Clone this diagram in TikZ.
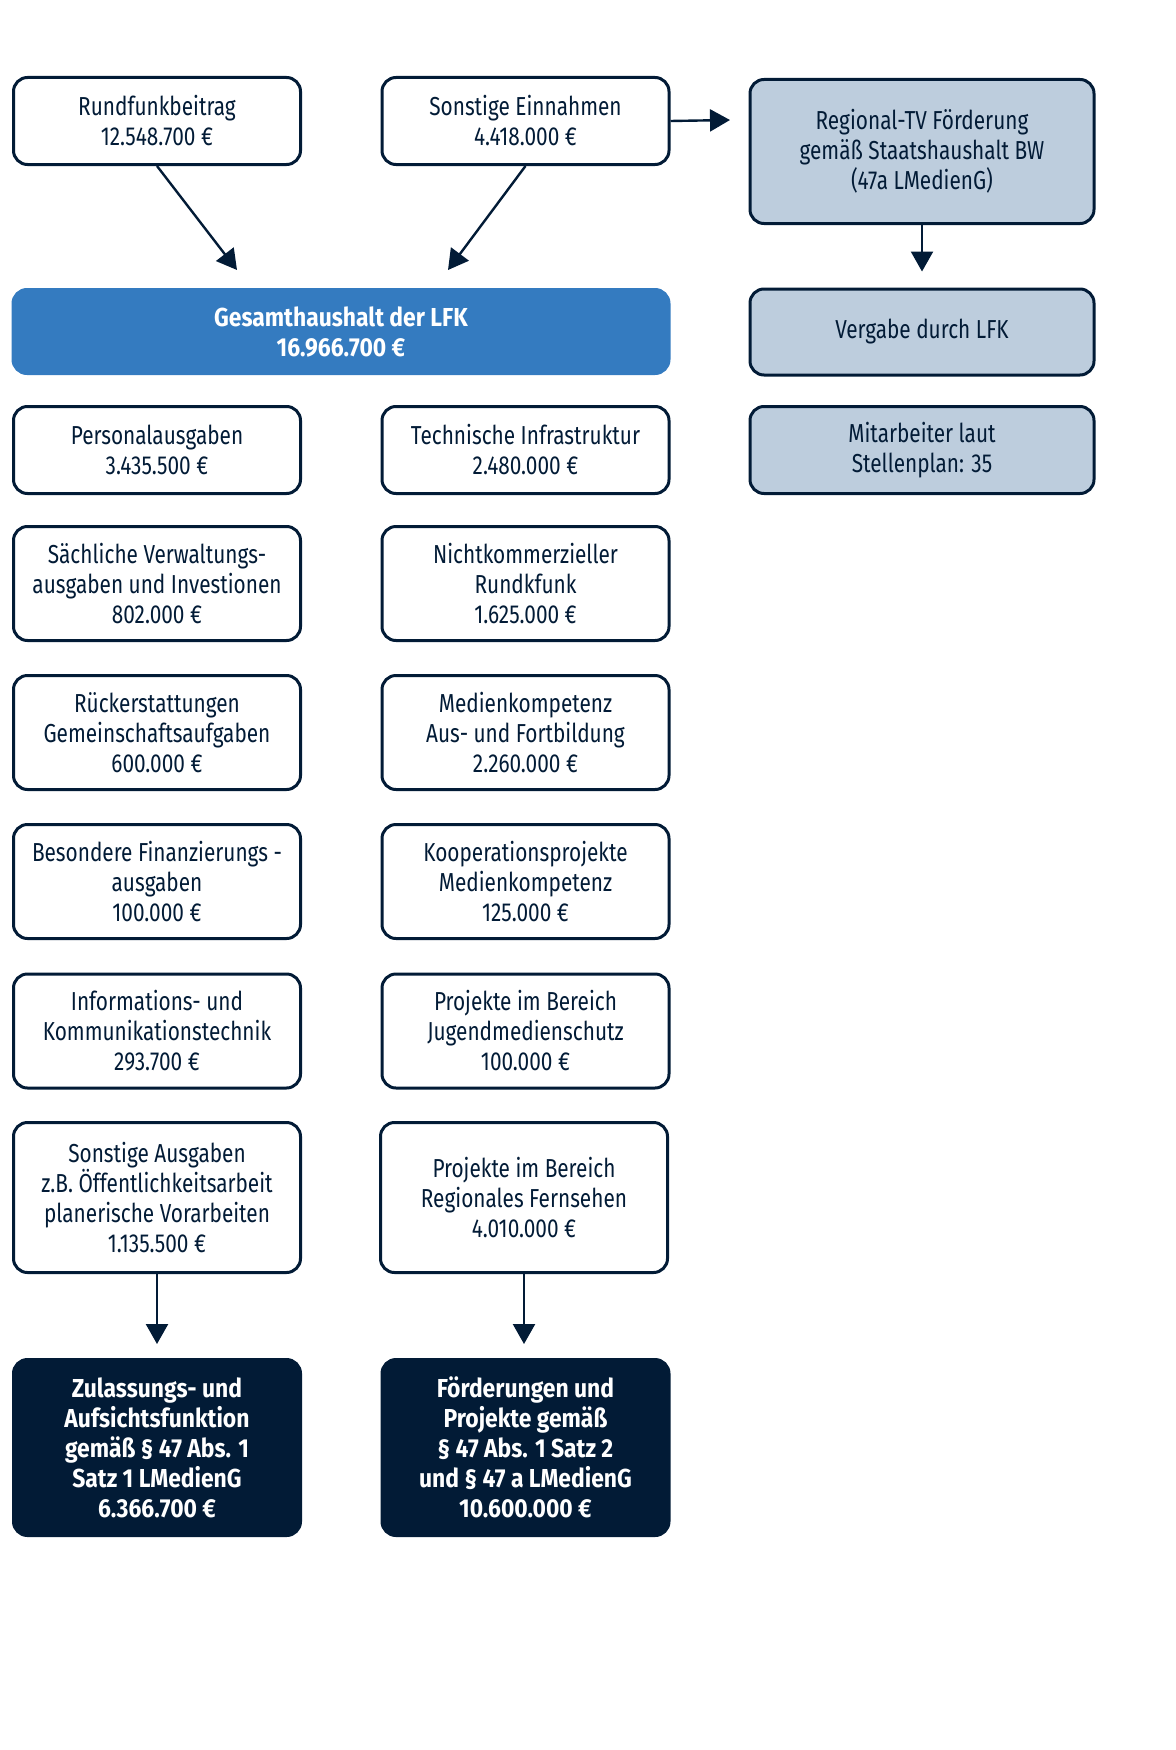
\documentclass[tikz,border=0pt]{standalone}
\usepackage{fontspec}
\setmainfont[FakeStretch=0.8, BoldFeatures={FakeStretch=0.88}]{Fira Sans}
\usetikzlibrary{arrows.meta}
\definecolor{lfknavy}{HTML}{021B36}
\definecolor{lfkblue}{HTML}{347BC0}
\definecolor{lfkgrey}{HTML}{BDCDDD}
\tikzset{
  posten/.style={draw=lfknavy, line width=1.5pt, rounded corners=7pt, fill=white, text=lfknavy,
    align=center, inner sep=0pt, font=\fontsize{13}{15}\selectfont, minimum width=143.5pt},
  regio/.style={posten, fill=lfkgrey, minimum width=172pt},
  summe/.style={posten, draw=lfknavy, fill=lfknavy, text=white, font=\bfseries\fontsize{13}{15}\selectfont},
  pfeil/.style={draw=lfknavy, line width=1.2pt, -{Triangle[width=11pt,length=10pt]}}
}
\begin{document}
\begin{tikzpicture}[x=0.5pt,y=-0.5pt]
\useasboundingbox (0,0) rectangle (1176,1750);

\node[posten, minimum height=43.5pt] (rb) at (157,121) {Rundfunkbeitrag\\12.548.700 €};
\node[posten, minimum height=43.5pt] (se) at (525.5,121) {Sonstige Einnahmen\\4.418.000 €};
\node[regio, minimum height=72pt] (rtv) at (922,151.5) {Regional-TV Förderung\\gemäß Staatshaushalt BW\\(47a LMedienG)};

\node[posten, fill=lfkblue, draw=lfkblue, text=white, font=\bfseries\fontsize{13}{15}\selectfont,
  minimum width=328pt, minimum height=42pt] (ges) at (341,331.5) {Gesamthaushalt der LFK\\16.966.700 €};
\node[regio, minimum height=43pt] (verg) at (922,332) {Vergabe durch LFK};
\node[regio, minimum height=43.5pt] (mit) at (922,450) {Mitarbeiter laut\\Stellenplan: 35};

\node[posten, minimum height=43.5pt] (pers) at (157,450) {Personalausgaben\\3.435.500 €};
\node[posten, minimum height=57pt] (saech) at (157,583.5) {Sächliche Verwaltungs-\\ausgaben und Investionen\\802.000 €};
\node[posten, minimum height=57pt] (rueck) at (157,732.5) {Rückerstattungen\\Gemeinschaftsaufgaben\\600.000 €};
\node[posten, minimum height=57pt] (bes) at (157,881.5) {Besondere Finanzierungs -\\ausgaben\\100.000 €};
\node[posten, minimum height=57pt] (ikt) at (157,1031) {Informations- und\\Kommunikationstechnik\\293.700 €};
\node[posten, minimum height=75pt] (sonst) at (157,1197.5) {Sonstige Ausgaben\\z.B. Öffentlichkeitsarbeit\\planerische Vorarbeiten\\1.135.500 €};

\node[posten, minimum height=43.5pt] (tech) at (525.5,450) {Technische Infrastruktur\\2.480.000 €};
\node[posten, minimum height=57pt] (nkr) at (525.5,583.5) {Nichtkommerzieller\\Rundkfunk\\1.625.000 €};
\node[posten, minimum height=57pt] (mk) at (525.5,732.5) {Medienkompetenz\\Aus- und Fortbildung\\2.260.000 €};
\node[posten, minimum height=57pt] (koop) at (525.5,881.5) {Kooperationsprojekte\\Medienkompetenz\\125.000 €};
\node[posten, minimum height=57pt] (jms) at (525.5,1031) {Projekte im Bereich\\Jugendmedienschutz\\100.000 €};
\node[posten, minimum height=75pt] (rf) at (524,1197.5) {Projekte im Bereich\\Regionales Fernsehen\\4.010.000 €};

\node[summe, minimum height=88pt] (zul) at (157,1447.5) {Zulassungs- und\\Aufsichtsfunktion\\gemäß § 47 Abs. 1\\Satz 1 LMedienG\\6.366.700 €};
\node[summe, minimum height=88pt] (foe) at (525.5,1447.5) {Förderungen und\\Projekte gemäß\\§ 47 Abs. 1 Satz 2\\und § 47 a LMedienG\\10.600.000 €};

\coordinate (einL) at (237,270);
\coordinate (einR) at (448,270);
\coordinate (rtvIn) at (730,120);
\draw[pfeil] (rb.south) -- (einL);
\draw[pfeil] (se.south) -- (einR);
\draw[pfeil] (se.east) -- (rtvIn);
\draw[pfeil] (rtv.south) -- ([yshift=8pt]verg.north);
\draw[pfeil] (sonst.south) -- ([yshift=7pt]zul.north);
\draw[pfeil] (rf.south) -- ([yshift=7pt]zul.north -| rf.south);
\end{tikzpicture}
\end{document}
